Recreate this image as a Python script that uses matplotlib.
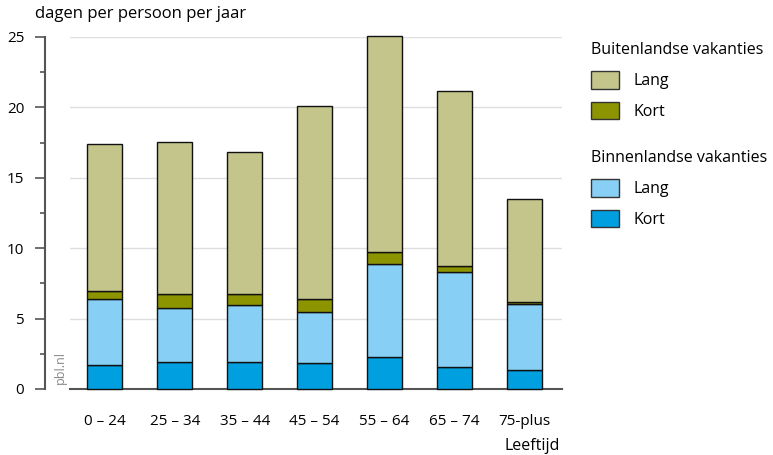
import matplotlib.pyplot as plt
import matplotlib.patches as mpatches
from matplotlib.ticker import MultipleLocator
import numpy as np

plt.rcParams['font.family'] = ['Open Sans', 'DejaVu Sans']

leeftijd = ['0 – 24', '25 – 34', '35 – 44', '45 – 54', '55 – 64', '65 – 74', '75-plus']
binnen_kort = [1.73, 1.94, 1.90, 1.87, 2.27, 1.56, 1.35]
binnen_lang = [4.67, 3.84, 4.05, 3.58, 6.64, 6.76, 4.67]
buiten_kort = [0.59, 1.00, 0.78, 0.95, 0.85, 0.40, 0.19]
buiten_lang = [10.40, 10.77, 10.09, 13.71, 15.28, 12.46, 7.29]

c_bu_lang = '#c4c58a'
c_bu_kort = '#8c9400'
c_bi_lang = '#87cff5'
c_bi_kort = '#009fe0'

fig = plt.figure(figsize=(7.73, 4.55), dpi=100)
ax = fig.add_axes([70/773, 1-389/455, (562-70)/773, (389-37)/455])

x = np.arange(len(leeftijd))
w = 0.5
bottom = np.zeros(len(x))
for vals, col in [(binnen_kort, c_bi_kort), (binnen_lang, c_bi_lang),
                  (buiten_kort, c_bu_kort), (buiten_lang, c_bu_lang)]:
    ax.bar(x, vals, w, bottom=bottom, color=col, edgecolor='#111111',
           linewidth=1.0, zorder=3, clip_on=False)
    bottom += np.array(vals)

ax.set_xlim(-0.5, 6.54)
ax.set_ylim(0, 25)
ax.yaxis.set_major_locator(MultipleLocator(5))
ax.yaxis.set_minor_locator(MultipleLocator(2.5))
ax.grid(axis='y', color='#dedede', linewidth=1.0, zorder=0)
ax.set_axisbelow(True)

for s in ['top', 'right']:
    ax.spines[s].set_visible(False)
ax.spines['left'].set_position(('outward', 18))
ax.spines['left'].set_color('#555555')
ax.spines['left'].set_linewidth(1.5)
ax.spines['bottom'].set_color('#555555')
ax.spines['bottom'].set_linewidth(1.5)

ax.set_xticks(x)
ax.set_xticklabels(leeftijd, fontsize=11)
ax.tick_params(axis='x', length=0, pad=18)
ax.tick_params(axis='y', which='major', length=7, width=1.2, color='#555555',
               labelsize=11, pad=8)
ax.tick_params(axis='y', which='minor', length=3.5, width=1.2, color='#555555')

fig.text(35/773, 1-14/455, 'dagen per persoon per jaar', fontsize=12,
         va='center', ha='left')
fig.text(560/773, 1-446/455, 'Leeftijd', fontsize=11.5, va='center', ha='right')
fig.text(60/773, 1-368/455, 'pbl.nl', fontsize=9, color='#888888',
         rotation=90, va='center', ha='center')

h1 = [mpatches.Patch(facecolor=c_bu_lang, edgecolor='#333333', label='Lang'),
      mpatches.Patch(facecolor=c_bu_kort, edgecolor='#333333', label='Kort')]
h2 = [mpatches.Patch(facecolor=c_bi_lang, edgecolor='#333333', label='Lang'),
      mpatches.Patch(facecolor=c_bi_kort, edgecolor='#333333', label='Kort')]

leg_kw = dict(loc='upper left', frameon=False, fontsize=11.5, title_fontsize=11.5,
              handlelength=1.75, handleheight=1.3, labelspacing=0.8,
              handletextpad=0.9, alignment='left', borderaxespad=0)
fig.legend(handles=h1, title='Buitenlandse vakanties',
           bbox_to_anchor=(585/773, 1-36/455), **leg_kw)
fig.legend(handles=h2, title='Binnenlandse vakanties',
           bbox_to_anchor=(585/773, 1-144/455), **leg_kw)

fig.savefig('out.png', dpi=100)
